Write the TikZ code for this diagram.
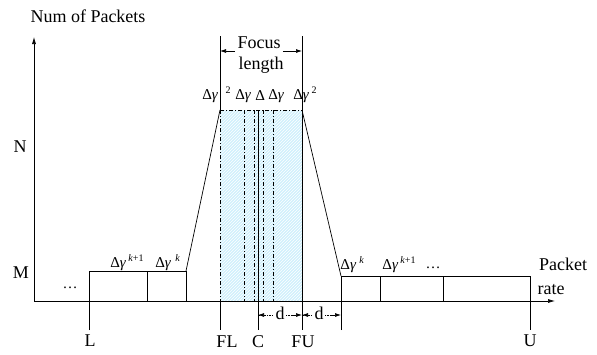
\documentclass[tikz,border=0pt]{standalone}
\usepackage{fontspec}
\setmainfont{Liberation Serif}
\usetikzlibrary{arrows.meta,patterns}
\newcommand{\dg}{Δ\textit{γ}}
\begin{document}
\begin{tikzpicture}[x=1pt,y=-1pt,line width=0.7pt,
  lbl/.style={font=\fontsize{18}{20}\selectfont,inner sep=0pt},
  dl/.style={font=\fontsize{15}{17}\selectfont,inner sep=0pt},
  sup/.style={font=\fontsize{10}{12}\selectfont,inner sep=0pt},
  axtip/.style={-{Latex[length=7pt,width=4pt]}},
  dtip/.style={-{Latex[length=6pt,width=4pt]}},
  dd/.style={dash pattern=on 4pt off 2pt on 1pt off 2pt,line width=0.5pt}]
\useasboundingbox (0,0) rectangle (597,354);
% coordinates
\coordinate (O) at (34,301);
\coordinate (Ytop) at (34,37);
\coordinate (Xend) at (555,301);
\coordinate (FLt) at (220,36);
\coordinate (FLa) at (220,110);
\coordinate (FLb) at (220,301);
\coordinate (FLd) at (220,330);
\coordinate (FUt) at (302,36);
\coordinate (FUa) at (302,110);
\coordinate (FUb) at (302,301);
\coordinate (FUd) at (302,330);
\coordinate (Ca) at (258,110);
\coordinate (Cd) at (258,330);
% focus region fill
\fill[cyan!18] (FLa) rectangle (FUb);
\fill[pattern=north east lines,pattern color=white] (FLa) rectangle (FUb);
% inner dash-dot lines
\foreach \xx in {244,254,263,273} \draw[dd] (\xx,110) -- (\xx,301);
\draw[dd] (FLa) -- (FUa);
\draw[dd] (FLa) -- (FLb);
% axes
\draw[axtip] (O) -- (Ytop);
\draw[axtip] (O) -- (Xend);
% FL, FU, C lines
\draw (FLt) -- (FLa);
\draw (FLb) -- (FLd);
\draw (FUt) -- (FUd);
\draw (Ca) -- (Cd);
% trapezoid sides
\coordinate (Lk) at (186,271);
\coordinate (Rk) at (341,276);
\draw (Lk) -- (FLa);
\draw (FUa) -- (Rk);
% left boxes
\coordinate (L0) at (89,271);
\coordinate (L1) at (147,271);
\draw (89,330) -- (L0) -- (Lk) -- (186,301);
\draw (L1) -- (147,301);
% right boxes
\coordinate (U0) at (530,276);
\draw (341,330) -- (Rk) -- (U0) -- (530,330);
\draw (380,276) -- (380,301);
\draw (443,276) -- (443,301);
% focus length arrows
\node[lbl] (focus) at (259,43) {Focus};
\node[lbl] (length) at (261,65) {length};
\draw[dtip] (focus.west) ++(-2,8) coordinate (fa) -- (220,51);
\draw[dtip] (focus.east) ++(2,8) coordinate (fb) -- (302,51);
% d arrows
\node[lbl] (d1) at (280,313) {d};
\node[lbl] (d2) at (319,313) {d};
\draw[densely dotted,line width=0.6pt] (259,315) -- (273,315);
\draw[densely dotted,line width=0.6pt] (286,315) -- (292,315);
\draw[densely dotted,line width=0.6pt] (303,315) -- (312,315);
\draw[densely dotted,line width=0.6pt] (325,315) -- (330,315);
\draw[dtip] (266,315) -- (258,315);
\draw[dtip] (292,315) -- (302,315);
\draw[dtip] (310,315) -- (302,315);
\draw[dtip] (331,315) -- (341,315);
% axis labels
\node[lbl] (ylab) at (88,16) {Num of Packets};
\node[lbl] (N) at (20,147) {N};
\node[lbl] (M) at (21,273) {M};
\node[lbl] (pk) at (563,264) {Packet};
\node[lbl] (rt) at (551,290) {rate};
\node[lbl] (L) at (90,341) {L};
\node[lbl] (FL) at (227,342) {FL};
\node[lbl] (C) at (258,342) {C};
\node[lbl] (FU) at (303,342) {FU};
\node[lbl] (U) at (530,341) {U};
% delta labels
\node[dl,anchor=west] (g1) at (202,96) {\dg};
\node[sup] (g1s) at (228,90) {2};
\node[dl,anchor=west] (g2) at (235,96) {\dg};
\node[dl,anchor=west] (g3) at (255,96) {Δ};
\node[dl,anchor=west] (g4) at (268,96) {\dg};
\node[dl,anchor=west] (g5) at (293,96) {\dg};
\node[sup] (g5s) at (314,90) {2};
\node[dl,anchor=west] (lk1) at (110,264) {\dg};
\node[sup,anchor=west] (lk1s) at (128,258) {\textit{k}+1};
\node[dl,anchor=west] (lk) at (155,264) {\dg};
\node[sup,anchor=west] (lks) at (175,258) {\textit{k}};
\node[dl,anchor=west] (rk) at (340,266) {\dg};
\node[sup,anchor=west] (rks) at (359,260) {\textit{k}};
\node[dl,anchor=west] (rk1) at (382,266) {\dg};
\node[sup,anchor=west] (rk1s) at (400,260) {\textit{k}+1};
\node[dl] (ldots) at (70,288) {\dots};
\node[dl] (rdots) at (433,268) {\dots};
\end{tikzpicture}
\end{document}
